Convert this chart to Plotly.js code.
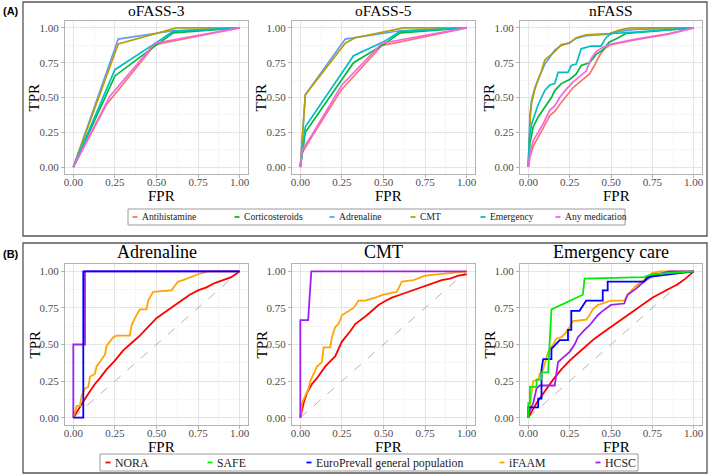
<!DOCTYPE html>
<html>
<head>
<meta charset="utf-8">
<script src="https://cdn.plot.ly/plotly-3.0.1.min.js"></script>
<style>html,body{margin:0;padding:0;background:#fff}#chart{width:709px;height:476px}</style>
</head>
<body>
<div id="chart"></div>
<script>
// ---------- Tick labels ----------
const tickValues = [0, 0.25, 0.5, 0.75, 1];
const tickLabels = ['0.00', '0.25', '0.50', '0.75', '1.00'];

// ---------- Panel A: series ----------
const seriesA = ['Antihistamine', 'Corticosteroids', 'Adrenaline', 'CMT', 'Emergency', 'Any medication'];
const colorsA = ['#F8766D', '#00BA38', '#619CFF', '#B79F00', '#00BFC4', '#F564E3'];
const panelTitlesA = ['oFASS-3', 'oFASS-5', 'nFASS'];

// oFASS-3
const o3_Antihistamine_FPR = [0, 0.20, 0.49, 1];
const o3_Antihistamine_TPR = [0, 0.45, 0.88, 1];
const o3_Corticosteroids_FPR = [0, 0.25, 0.48, 0.60, 1];
const o3_Corticosteroids_TPR = [0, 0.655, 0.86, 0.965, 1];
const o3_Adrenaline_FPR = [0, 0.27, 0.60, 1];
const o3_Adrenaline_TPR = [0, 0.92, 0.98, 1];
const o3_CMT_FPR = [0, 0.27, 0.62, 1];
const o3_CMT_TPR = [0, 0.885, 1.0, 1];
const o3_Emergency_FPR = [0, 0.25, 0.48, 0.60, 1];
const o3_Emergency_TPR = [0, 0.70, 0.88, 0.975, 1];
const o3_AnyMed_FPR = [0, 0.22, 0.49, 1];
const o3_AnyMed_TPR = [0, 0.51, 0.89, 1];

// oFASS-5
const o5_Antihistamine_FPR = [0, 0.01, 0.07, 0.25, 0.49, 0.60, 1];
const o5_Antihistamine_TPR = [0, 0.10, 0.22, 0.56, 0.875, 0.90, 1];
const o5_Corticosteroids_FPR = [0, 0.03, 0.32, 0.50, 0.60, 1];
const o5_Corticosteroids_TPR = [0, 0.25, 0.75, 0.88, 0.965, 1];
const o5_Adrenaline_FPR = [0, 0.03, 0.27, 0.33, 0.60, 1];
const o5_Adrenaline_TPR = [0, 0.52, 0.92, 0.93, 0.98, 1];
const o5_CMT_FPR = [0, 0.03, 0.27, 0.33, 0.62, 1];
const o5_CMT_TPR = [0, 0.52, 0.89, 0.93, 1.0, 1];
const o5_Emergency_FPR = [0, 0.03, 0.32, 0.50, 0.60, 1];
const o5_Emergency_TPR = [0, 0.29, 0.80, 0.90, 0.975, 1];
const o5_AnyMed_FPR = [0, 0.01, 0.07, 0.25, 0.49, 1];
const o5_AnyMed_TPR = [0, 0.12, 0.23, 0.59, 0.89, 1];

// nFASS
const nf_Antihistamine_FPR = [0, 0.01, 0.03, 0.06, 0.09, 0.13, 0.16, 0.19, 0.23, 0.27, 0.31, 0.35, 0.37, 0.40, 0.43, 0.46, 0.50, 0.65, 0.85, 1];
const nf_Antihistamine_TPR = [0, 0.07, 0.15, 0.22, 0.28, 0.37, 0.40, 0.45, 0.51, 0.57, 0.61, 0.65, 0.67, 0.73, 0.80, 0.85, 0.88, 0.915, 0.955, 1];
const nf_Corticosteroids_FPR = [0, 0.01, 0.03, 0.06, 0.10, 0.14, 0.16, 0.20, 0.25, 0.29, 0.32, 0.37, 0.41, 0.45, 0.49, 0.53, 0.59, 0.69, 1];
const nf_Corticosteroids_TPR = [0, 0.17, 0.29, 0.36, 0.43, 0.50, 0.55, 0.60, 0.63, 0.67, 0.73, 0.75, 0.81, 0.84, 0.90, 0.92, 0.96, 0.97, 1];
const nf_Adrenaline_FPR = [0, 0.004, 0.01, 0.02, 0.04, 0.06, 0.08, 0.10, 0.13, 0.16, 0.20, 0.25, 0.29, 0.35, 0.49, 0.55, 0.65, 1];
const nf_Adrenaline_TPR = [0, 0.25, 0.38, 0.48, 0.57, 0.63, 0.68, 0.74, 0.79, 0.84, 0.875, 0.895, 0.925, 0.945, 0.955, 0.975, 0.99, 1];
const nf_CMT_FPR = [0, 0.005, 0.012, 0.02, 0.04, 0.06, 0.08, 0.10, 0.13, 0.16, 0.20, 0.25, 0.29, 0.35, 0.49, 0.55, 0.62, 1];
const nf_CMT_TPR = [0, 0.22, 0.36, 0.46, 0.56, 0.63, 0.69, 0.77, 0.80, 0.83, 0.88, 0.89, 0.93, 0.95, 0.96, 0.985, 1.0, 1];
const nf_Emergency_FPR = [0, 0.006, 0.02, 0.04, 0.06, 0.08, 0.10, 0.13, 0.16, 0.18, 0.24, 0.26, 0.29, 0.32, 0.38, 0.44, 0.47, 0.50, 0.65, 1];
const nf_Emergency_TPR = [0, 0.19, 0.31, 0.38, 0.45, 0.50, 0.55, 0.59, 0.60, 0.68, 0.68, 0.73, 0.74, 0.85, 0.87, 0.87, 0.93, 0.96, 0.97, 1];
const nf_AnyMed_FPR = [0, 0.01, 0.03, 0.06, 0.09, 0.13, 0.16, 0.19, 0.23, 0.27, 0.31, 0.35, 0.38, 0.41, 0.45, 0.50, 0.65, 0.85, 1];
const nf_AnyMed_TPR = [0, 0.10, 0.19, 0.25, 0.31, 0.41, 0.44, 0.50, 0.56, 0.61, 0.65, 0.69, 0.78, 0.83, 0.86, 0.885, 0.92, 0.96, 1];

// ---------- Panel B: series ----------
const seriesB = ['NORA', 'SAFE', 'EuroPrevall general population', 'iFAAM', 'HCSC'];
const colorsB = ['#FF0000', '#00EE00', '#0000FF', '#FFA500', '#A020F0'];
const panelTitlesB = ['Adrenaline', 'CMT', 'Emergency care'];

// Adrenaline
const adr_NORA_FPR = [0, 0.03, 0.06, 0.10, 0.13, 0.16, 0.20, 0.25, 0.30, 0.35, 0.40, 0.45, 0.50, 0.55, 0.60, 0.65, 0.70, 0.75, 0.80, 0.85, 0.90, 0.95, 1];
const adr_NORA_TPR = [0, 0.06, 0.11, 0.18, 0.23, 0.27, 0.33, 0.39, 0.46, 0.51, 0.56, 0.62, 0.68, 0.72, 0.76, 0.80, 0.84, 0.87, 0.89, 0.92, 0.94, 0.96, 1];
const adr_EuroPrevall_FPR = [0, 0.06, 0.06, 1];
const adr_EuroPrevall_TPR = [0, 0, 1, 1];
const adr_iFAAM_FPR = [0, 0.01, 0.02, 0.04, 0.05, 0.07, 0.09, 0.10, 0.13, 0.14, 0.17, 0.19, 0.20, 0.22, 0.24, 0.26, 0.34, 0.35, 0.37, 0.40, 0.44, 0.45, 0.48, 0.59, 0.63, 0.66, 0.70, 0.75, 0.81, 1];
const adr_iFAAM_TPR = [0, 0.05, 0.08, 0.08, 0.15, 0.20, 0.21, 0.28, 0.30, 0.35, 0.40, 0.43, 0.49, 0.52, 0.55, 0.56, 0.56, 0.63, 0.68, 0.74, 0.74, 0.80, 0.86, 0.87, 0.93, 0.94, 0.96, 0.98, 1.0, 1];
const adr_HCSC_FPR = [0, 0, 0.07, 0.07, 1];
const adr_HCSC_TPR = [0, 0.5, 0.5, 1, 1];

// CMT
const cmt_NORA_FPR = [0, 0.02, 0.04, 0.07, 0.10, 0.15, 0.21, 0.25, 0.30, 0.33, 0.40, 0.47, 0.50, 0.55, 0.60, 0.65, 0.70, 0.75, 0.81, 0.85, 0.90, 0.95, 1];
const cmt_NORA_TPR = [0, 0.10, 0.17, 0.23, 0.27, 0.35, 0.42, 0.52, 0.59, 0.64, 0.70, 0.77, 0.79, 0.82, 0.84, 0.86, 0.88, 0.90, 0.92, 0.94, 0.95, 0.97, 0.98];
const cmt_iFAAM_FPR = [0, 0.01, 0.03, 0.05, 0.06, 0.08, 0.10, 0.13, 0.14, 0.18, 0.19, 0.21, 0.23, 0.25, 0.29, 0.32, 0.35, 0.39, 0.45, 0.50, 0.58, 0.61, 0.68, 0.75, 1];
const cmt_iFAAM_TPR = [0, 0.10, 0.15, 0.20, 0.25, 0.30, 0.35, 0.38, 0.48, 0.48, 0.55, 0.62, 0.64, 0.70, 0.73, 0.75, 0.80, 0.80, 0.82, 0.84, 0.86, 0.93, 0.94, 0.97, 1];
const cmt_HCSC_FPR = [0, 0, 0.047, 0.066, 1];
const cmt_HCSC_TPR = [0, 0.667, 0.667, 1, 1];

// Emergency care
const em_NORA_FPR = [0, 0.05, 0.10, 0.15, 0.20, 0.25, 0.30, 0.35, 0.40, 0.45, 0.50, 0.55, 0.60, 0.65, 0.70, 0.75, 0.80, 0.85, 0.90, 0.95, 1];
const em_NORA_TPR = [0, 0.10, 0.18, 0.26, 0.33, 0.39, 0.44, 0.49, 0.54, 0.58, 0.62, 0.66, 0.70, 0.74, 0.78, 0.82, 0.85, 0.88, 0.91, 0.95, 1];
const em_SAFE_FPR = [0, 0, 0.01, 0.01, 0.05, 0.05, 0.08, 0.08, 0.12, 0.14, 0.33, 0.34, 0.70, 0.75, 1];
const em_SAFE_TPR = [0, 0.10, 0.10, 0.21, 0.21, 0.26, 0.26, 0.31, 0.31, 0.74, 0.84, 0.95, 0.96, 0.98, 1];
const em_EuroPrevall_FPR = [0, 0, 0.06, 0.06, 0.08, 0.08, 0.09, 0.14, 0.14, 0.19, 0.24, 0.24, 0.26, 0.26, 0.31, 0.35, 0.45, 0.45, 0.48, 0.48, 0.70, 0.72, 1];
const em_EuroPrevall_TPR = [0, 0.07, 0.07, 0.13, 0.13, 0.33, 0.40, 0.40, 0.47, 0.53, 0.53, 0.60, 0.60, 0.73, 0.73, 0.80, 0.80, 0.87, 0.87, 0.93, 0.93, 0.96, 1];
const em_iFAAM_FPR = [0, 0.01, 0.02, 0.03, 0.06, 0.07, 0.09, 0.10, 0.12, 0.15, 0.17, 0.20, 0.22, 0.25, 0.27, 0.35, 0.37, 0.39, 0.42, 0.50, 0.58, 0.60, 0.65, 0.70, 0.75, 0.80, 1];
const em_iFAAM_TPR = [0, 0.10, 0.17, 0.25, 0.26, 0.30, 0.33, 0.37, 0.45, 0.50, 0.54, 0.55, 0.57, 0.62, 0.66, 0.67, 0.70, 0.74, 0.77, 0.80, 0.80, 0.84, 0.90, 0.94, 0.99, 1.0, 1];
const em_HCSC_FPR = [0, 0.01, 0.03, 0.05, 0.07, 0.16, 0.17, 0.18, 0.20, 0.25, 0.28, 0.30, 0.34, 0.37, 0.42, 0.45, 0.50, 0.58, 0.60, 0.65, 0.70, 0.75, 0.85, 1];
const em_HCSC_TPR = [0, 0.05, 0.10, 0.20, 0.22, 0.22, 0.30, 0.38, 0.40, 0.45, 0.50, 0.55, 0.60, 0.63, 0.70, 0.73, 0.77, 0.78, 0.84, 0.88, 0.93, 0.97, 1.0, 1];

// Chance diagonal
const chanceLine = [0, 1];

// ---------- Layout geometry (pixels in a 709x476 figure) ----------
const W = 709, H = 476;
const colsPx = [[65, 248], [292, 475], [520, 702]];
const rowA = [21, 174], rowB = [264, 425];
const px = v => v / W, py = v => 1 - v / H;

const SERIF = 'Liberation Serif, Times New Roman, serif';
const traces = [];

function addLine(ax, x, y, color, name, width, dash) {
  traces.push({
    type: 'scatter', mode: 'lines', x: x, y: y, name: name,
    xaxis: 'x' + (ax === 1 ? '' : ax), yaxis: 'y' + (ax === 1 ? '' : ax),
    line: { color: color, width: width, dash: dash || 'solid' },
    showlegend: false, hoverinfo: 'x+y+name'
  });
}

// Panel A (axes 1-3)
const panelA = [
  [[o3_Antihistamine_FPR, o3_Antihistamine_TPR], [o3_Corticosteroids_FPR, o3_Corticosteroids_TPR], [o3_Adrenaline_FPR, o3_Adrenaline_TPR], [o3_CMT_FPR, o3_CMT_TPR], [o3_Emergency_FPR, o3_Emergency_TPR], [o3_AnyMed_FPR, o3_AnyMed_TPR]],
  [[o5_Antihistamine_FPR, o5_Antihistamine_TPR], [o5_Corticosteroids_FPR, o5_Corticosteroids_TPR], [o5_Adrenaline_FPR, o5_Adrenaline_TPR], [o5_CMT_FPR, o5_CMT_TPR], [o5_Emergency_FPR, o5_Emergency_TPR], [o5_AnyMed_FPR, o5_AnyMed_TPR]],
  [[nf_Antihistamine_FPR, nf_Antihistamine_TPR], [nf_Corticosteroids_FPR, nf_Corticosteroids_TPR], [nf_Adrenaline_FPR, nf_Adrenaline_TPR], [nf_CMT_FPR, nf_CMT_TPR], [nf_Emergency_FPR, nf_Emergency_TPR], [nf_AnyMed_FPR, nf_AnyMed_TPR]]
];
panelA.forEach((panel, p) => {
  panel.forEach((s, i) => addLine(p + 1, s[0], s[1], colorsA[i], seriesA[i], 1.7));
});

// Panel B (axes 4-6): index into seriesB, null = not shown
const panelB = [
  [[adr_NORA_FPR, adr_NORA_TPR], null, [adr_EuroPrevall_FPR, adr_EuroPrevall_TPR], [adr_iFAAM_FPR, adr_iFAAM_TPR], [adr_HCSC_FPR, adr_HCSC_TPR]],
  [[cmt_NORA_FPR, cmt_NORA_TPR], null, null, [cmt_iFAAM_FPR, cmt_iFAAM_TPR], [cmt_HCSC_FPR, cmt_HCSC_TPR]],
  [[em_NORA_FPR, em_NORA_TPR], [em_SAFE_FPR, em_SAFE_TPR], [em_EuroPrevall_FPR, em_EuroPrevall_TPR], [em_iFAAM_FPR, em_iFAAM_TPR], [em_HCSC_FPR, em_HCSC_TPR]]
];
panelB.forEach((panel, p) => {
  addLine(p + 4, chanceLine, chanceLine, '#AAAAAA', 'Chance', 0.9, 'dash');
  const order = [0, 3, 4, 2, 1];
  order.forEach(i => { const s = panel[i]; if (s) addLine(p + 4, s[0], s[1], colorsB[i], seriesB[i], 1.8); });
});

// ---------- Axes ----------
const layout = {
  width: W, height: H, margin: { l: 0, r: 0, t: 0, b: 0 },
  paper_bgcolor: '#FFFFFF', plot_bgcolor: '#FFFFFF',
  showlegend: false, shapes: [], annotations: []
};

function axisCfg(domain, anchor, isY) {
  return {
    domain: domain, anchor: anchor, range: [-0.05, 1.05], fixedrange: true,
    tickmode: 'array', tickvals: tickValues, ticktext: tickLabels,
    showgrid: true, gridcolor: '#DEDEDE', gridwidth: 0.8,
    minor: { tickvals: [0.125, 0.375, 0.625, 0.875], showgrid: true, gridcolor: '#F0F0F0', gridwidth: 0.6, ticks: '' },
    zeroline: false, showline: true, mirror: true, linecolor: '#B3B3B3', linewidth: 1,
    ticks: 'outside', ticklen: 3, tickwidth: 1, tickcolor: '#B3B3B3',
    ticklabelstandoff: isY ? 0 : -5,
    tickfont: { family: SERIF, size: 11, color: '#4D4D4D' }
  };
}

const AXIS_FONT = { family: SERIF, size: 15, color: '#000000' };
for (let k = 0; k < 6; k++) {
  const col = colsPx[k % 3];
  const row = k < 3 ? rowA : rowB;
  const sfx = k === 0 ? '' : String(k + 1);
  layout['xaxis' + sfx] = axisCfg([px(col[0]), px(col[1])], 'y' + sfx, false);
  layout['yaxis' + sfx] = axisCfg([py(row[1]), py(row[0])], 'x' + sfx, true);
  const titleText = k < 3 ? panelTitlesA[k] : panelTitlesB[k - 3];
  layout.annotations.push({
    xref: 'paper', yref: 'paper', x: px((col[0] + col[1]) / 2), y: py(row[0]),
    xanchor: 'center', yanchor: 'bottom', showarrow: false, text: titleText,
    font: { family: SERIF, size: k < 3 ? 15.5 : 18, color: '#000000' }
  });
  // axis titles
  layout.annotations.push({
    xref: 'paper', yref: 'paper', x: px((col[0] + col[1]) / 2 + 5), y: py(row[1] + 22),
    xanchor: 'center', yanchor: 'middle', showarrow: false, text: 'FPR', font: AXIS_FONT, borderpad: 0
  });
  layout.annotations.push({
    xref: 'paper', yref: 'paper', x: px(col[0] - 31), y: py((row[0] + row[1]) / 2),
    xanchor: 'center', yanchor: 'middle', showarrow: false, text: 'TPR', textangle: -90, font: AXIS_FONT
  });
}

// ---------- Outer frames and panel tags ----------
[[2, 236], [243, 473]].forEach(r => {
  layout.shapes.push({ type: 'rect', xref: 'paper', yref: 'paper', x0: px(23), x1: px(707), y0: py(r[1]), y1: py(r[0]), line: { color: '#555555', width: 1.3 } });
});
[['(A)', 11], ['(B)', 254]].forEach(t => {
  layout.annotations.push({ xref: 'paper', yref: 'paper', x: px(1), y: py(t[1]), xanchor: 'left', yanchor: 'middle', showarrow: false, text: '<b>' + t[0] + '</b>', font: { family: 'Liberation Sans, Arial, sans-serif', size: 11, color: '#000' } });
});

// ---------- Legends ----------
function legendBox(box, keysX, labels, colors, fontSize) {
  const yc = (box[2] + box[3]) / 2;
  layout.shapes.push({ type: 'rect', xref: 'paper', yref: 'paper', x0: px(box[0]), x1: px(box[1]), y0: py(box[3]), y1: py(box[2]), line: { color: '#9A9A9A', width: 1 }, fillcolor: '#FFFFFF' });
  labels.forEach((lab, i) => {
    layout.shapes.push({ type: 'line', xref: 'paper', yref: 'paper', x0: px(keysX[i] - 2.5), x1: px(keysX[i] + 2.5), y0: py(yc), y1: py(yc), line: { color: colors[i], width: 1.8 } });
    layout.annotations.push({ xref: 'paper', yref: 'paper', x: px(keysX[i] + 5), y: py(yc), xanchor: 'left', yanchor: 'middle', showarrow: false, text: lab, font: { family: SERIF, size: fontSize, color: '#1A1A1A' } });
  });
}
legendBox([128, 625, 209, 225], [135, 237, 332, 413, 483, 558], seriesA, colorsA, 9.6);
legendBox([100, 638, 454, 471], [108, 210, 309, 502, 598], seriesB, colorsB, 11.8);

Plotly.newPlot('chart', traces, layout, { staticPlot: true, displayModeBar: false });
</script>
</body>
</html>
